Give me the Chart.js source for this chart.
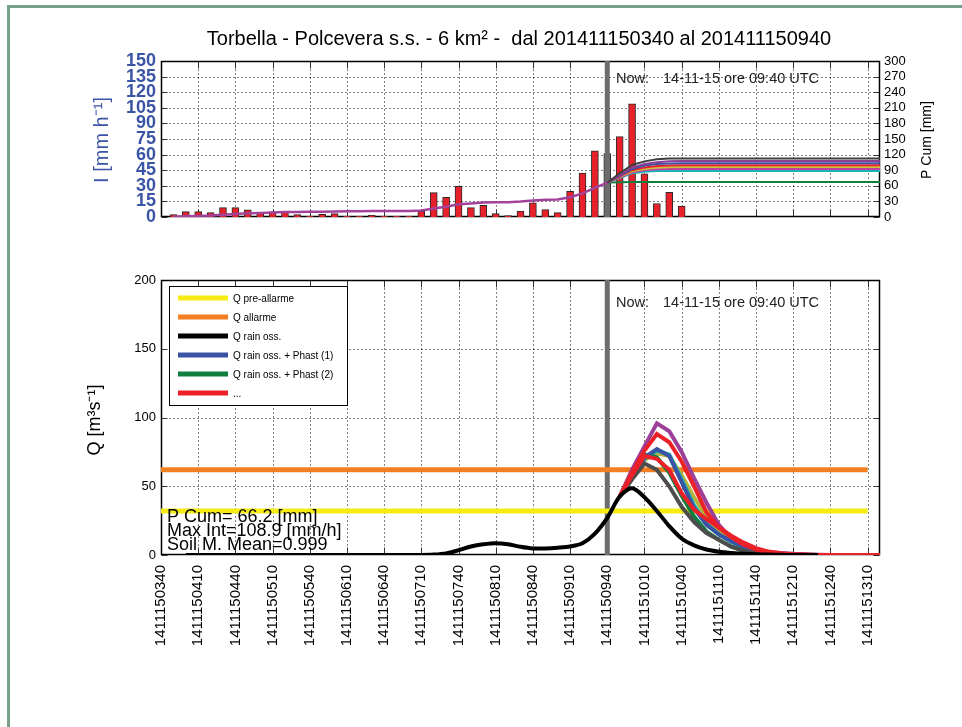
<!DOCTYPE html>
<html>
<head>
<meta charset="utf-8">
<script src="https://cdn.jsdelivr.net/npm/chart.js@4.4.1/dist/chart.umd.min.js"></script>
<style>
  body { margin: 0; background: #fff; }
  #page { position: relative; width: 962px; height: 727px; overflow: hidden; background: #fff; }
  #frame { position: absolute; left: 7px; top: 5px; width: 970px; height: 740px; border-left: 3px solid #76a087; border-top: 3px solid #76a087; }
  canvas { position: absolute; left: 0; }
  #top { top: 0; }
  #bottom { top: 250px; }
</style>
</head>
<body>
<div id="page">
  <div id="frame"></div>
  <canvas id="top" width="962" height="250"></canvas>
  <canvas id="bottom" width="962" height="477"></canvas>
</div>
<script>
// x axis: minutes after 03:40, ticks every 30 min
const xTickLabels = ['1411150340', '1411150410', '1411150440', '1411150510', '1411150540',
  '1411150610', '1411150640', '1411150710', '1411150740', '1411150810', '1411150840',
  '1411150910', '1411150940', '1411151010', '1411151040', '1411151110', '1411151140',
  '1411151210', '1411151240', '1411151310'];
const nowTime = '09:40';

// rain intensity bars [mm/h], 10 min steps
const rainTimes = ['03:50', '04:00', '04:10', '04:20', '04:30', '04:40', '04:50', '05:00', '05:10', '05:20',
  '05:30', '05:40', '05:50', '06:00', '06:10', '06:20', '06:30', '06:40', '06:50', '07:00',
  '07:10', '07:20', '07:30', '07:40', '07:50', '08:00', '08:10', '08:20', '08:30', '08:40',
  '08:50', '09:00', '09:10', '09:20', '09:30', '09:40', '09:50', '10:00', '10:10', '10:20',
  '10:30', '10:40'];
const rainIntensity = [2.3, 5.2, 5.2, 4.2, 9, 9, 6.8, 4.5, 5, 5,
  2.3, 0.6, 2.6, 3.2, 0.6, 0.6, 1.6, 0.6, 0.6, 0.6,
  5.5, 23.5, 19, 29.4, 9, 11.3, 3.2, 1.3, 5.8, 13.6,
  7.1, 4.2, 24.7, 42.2, 63.6, 61, 77.3, 108.9, 41.6, 13,
  23.7, 10.4];

// observed cumulated rain [mm] (same times as the first 36 bars)
const obsCum = [0.4, 1.3, 2.1, 2.8, 4.3, 5.8, 7.0, 7.7, 8.5, 9.4,
  9.8, 9.9, 10.3, 10.8, 10.9, 11.0, 11.3, 11.4, 11.5, 11.6,
  12.5, 16.4, 19.6, 24.5, 26.0, 27.9, 28.4, 28.6, 29.6, 31.8,
  33.0, 33.7, 38.0, 45.5, 56.0, 66.2];

// forecast cumulated rain [mm]
const fcCumTimes = ['09:40', '09:50', '10:00', '10:10', '10:20', '10:30', '10:40', '13:20'];
const fcCumDarkGray = [66.2, 84, 100, 107, 111, 112.5, 112.5, 112.5];
const fcCumPurple = [66.2, 80, 95, 102, 105.5, 107, 107.5, 107.5];
const fcCumBlue = [66.2, 79, 92, 99, 102, 103, 103.5, 103.5];
const fcCumRed = [66.2, 78, 90, 95, 98, 99, 99.5, 99.5];
const fcCumOlive = [66.2, 77, 88, 92.5, 95, 95.8, 96, 96];
const fcCumMagenta = [66.2, 76, 86, 90, 92, 92.4, 92.5, 92.5];
const fcCumCyan = [66.2, 75, 84, 87, 88.3, 88.5, 88.5, 88.5];
const fcCumGreen = [66.2, 67, 67.3, 67.5, 67.5, 67.5, 67.5, 67.5];

// discharge Q [m3/s], 10 min steps from the start time
const qObsStart = '04:00';
const qObs = [0, 0, 0, 0, 0, 0, 0, 0, 0, 0,
  0, 0, 0, 0, 0, 0, 0, 0, 0, 0,
  0.3, 1.2, 3.5, 6.2, 7.8, 8.6, 7.8, 6.0, 4.8, 4.8,
  5.3, 6.2, 8.5, 15.5, 27, 42.5, 48.5, 42, 32, 21,
  12, 7, 4, 2.4, 1.5, 1, 0.6, 0.3, 0.1, 0,
  0, 0];
const qFcStart = '09:50';
const qFcPurple = [42.5, 62, 79, 95.8, 90, 75, 56, 38, 22, 12, 6.5, 3.5, 2.2, 1.5, 0.9, 0.5, 0.2, 0];
const qFcRedHigh = [42.5, 60, 76, 88, 82, 68, 50, 31, 20, 13, 7.5, 4, 2, 1, 0.5, 0.2, 0];
const qFcBlue = [42.5, 58, 71, 77, 72, 53, 34, 22, 15, 10, 6, 3.5, 2, 1, 0.4, 0];
const qFcTeal = [42.5, 57, 70, 76, 73, 55, 36, 23, 15, 9.5, 5.5, 3, 1.5, 0.7, 0.2, 0];
const qFcOlive = [42.5, 56, 69, 74, 72, 58, 42, 28, 17, 10, 5, 2.5, 1.2, 0.5, 0];
const qFcGreen = [42.5, 57, 73, 71, 60, 43, 28, 17, 11, 6, 3.5, 1.8, 0.8, 0.3, 0];
const qFcDarkGray = [42.5, 55, 66.5, 62, 50, 35, 24, 16, 11, 6, 3, 1.5, 0.6, 0.2, 0];
const qFcRed = [42.5, 58, 72, 70, 62, 45, 33, 26, 20, 14, 9, 5, 2.5, 1.2, 0.5, 0.2, 0, 0, 0, 0, 0, 0];

const thresholdTimes = ['03:40', '13:10'];
const qPreAllarme = 32;
const qAllarme = 62;

const legendLabels = ['Q pre-allarme', 'Q allarme', 'Q rain oss.', 'Q rain oss. + Phast (1)', 'Q rain oss. + Phast (2)', '...'];
const statsLines = ['P Cum= 66.2 [mm]', 'Max Int=108.9 [mm/h]', 'Soil M. Mean=0.999'];

const FONT = '"Liberation Sans", Arial, sans-serif';
const NOW_GRAY = '#6d6d6d';

function toMin(t) {
  const [h, m] = t.split(':').map(Number);
  return h * 60 + m - 220;
}
function pts(times, vals) {
  return vals.map((v, i) => ({ x: toMin(times[i]), y: v }));
}
function stepPts(start, vals) {
  const s = toMin(start);
  return vals.map((v, i) => ({ x: s + 10 * i, y: v }));
}
function flat(times, v) {
  return times.map(t => ({ x: toMin(t), y: v }));
}

// dotted grid, inward ticks and the box round the plot
function drawFrame(chart, yId) {
  const { ctx, chartArea: a } = chart;
  const xs = chart.scales.x, ys = chart.scales[yId];
  const L = Math.round(a.left) + 0.5, R = Math.round(a.right) - 0.5;
  const T = Math.round(a.top) + 0.5, B = Math.round(a.bottom) - 0.5;
  ctx.save();
  ctx.strokeStyle = '#000';
  ctx.lineWidth = 1;
  ctx.setLineDash([1, 3]);
  xs.ticks.forEach(t => {
    const px = Math.round(xs.getPixelForValue(t.value)) + 0.5;
    if (px <= L + 1 || px >= R - 1) return;
    ctx.beginPath(); ctx.moveTo(px, T); ctx.lineTo(px, B); ctx.stroke();
  });
  ys.ticks.forEach(t => {
    const py = Math.round(ys.getPixelForValue(t.value)) + 0.5;
    if (py <= T + 1 || py >= B - 1) return;
    ctx.beginPath(); ctx.moveTo(L, py); ctx.lineTo(R, py); ctx.stroke();
  });
  ctx.setLineDash([]);
  ctx.strokeStyle = '#333';
  xs.ticks.forEach(t => {
    const px = Math.round(xs.getPixelForValue(t.value)) + 0.5;
    ctx.beginPath();
    ctx.moveTo(px, B); ctx.lineTo(px, B - 7);
    ctx.moveTo(px, T); ctx.lineTo(px, T + 7);
    ctx.stroke();
  });
  ys.ticks.forEach(t => {
    const py = Math.round(ys.getPixelForValue(t.value)) + 0.5;
    ctx.beginPath();
    ctx.moveTo(L, py); ctx.lineTo(L + 6, py);
    ctx.moveTo(R, py); ctx.lineTo(R - 6, py);
    ctx.stroke();
  });
  ctx.strokeStyle = '#000';
  ctx.lineWidth = 1.5;
  ctx.strokeRect(L, T, R - L, B - T);
  ctx.restore();
}

function txt(ctx, s, x, y, font, color, align, rot) {
  ctx.save();
  ctx.font = font;
  ctx.fillStyle = color || '#000';
  ctx.textAlign = align || 'left';
  ctx.textBaseline = rot ? 'middle' : 'alphabetic';
  ctx.translate(x, y);
  if (rot) ctx.rotate(rot);
  ctx.fillText(s, 0, 0);
  ctx.restore();
}

function drawNow(chart, baseline) {
  const ctx = chart.ctx;
  txt(ctx, 'Now:', 616, baseline, '14.5px ' + FONT, '#222');
  txt(ctx, '14-11-15 ore 09:40 UTC', 663, baseline, '14.5px ' + FONT, '#222');
}

const topDecor = {
  id: 'topDecor',
  beforeDatasetsDraw(chart) { drawFrame(chart, 'y'); },
  afterDraw(chart) {
    const ctx = chart.ctx;
    txt(ctx, 'Torbella - Polcevera s.s. - 6 km\u00b2 -  dal 201411150340 al 201411150940', 519, 45, '20px ' + FONT, '#000', 'center');
    txt(ctx, 'I [mm h\u207b\u00b9]', 102, 140, '20px ' + FONT, '#3b55a6', 'center', -Math.PI / 2);
    txt(ctx, 'P Cum [mm]', 927, 140, '14px ' + FONT, '#000', 'center', -Math.PI / 2);
    drawNow(chart, 83);
  }
};

const bottomDecor = {
  id: 'bottomDecor',
  beforeDatasetsDraw(chart) { drawFrame(chart, 'y'); },
  afterDraw(chart) {
    const ctx = chart.ctx;
    txt(ctx, 'Q [m\u00b3s\u207b\u00b9]', 95, 170, '18px ' + FONT, '#000', 'center', -Math.PI / 2);
    drawNow(chart, 57);
    statsLines.forEach((s, i) => txt(ctx, s, 167, 272 + 14 * i, '18px ' + FONT, '#000'));
    // legend
    ctx.save();
    ctx.fillStyle = '#fff';
    ctx.fillRect(169.5, 36.5, 178, 119);
    ctx.strokeStyle = '#000';
    ctx.lineWidth = 1;
    ctx.strokeRect(169.5, 36.5, 178, 119);
    ctx.restore();
    legendLabels.forEach((lab, i) => {
      const ds = chart.data.datasets[i];
      const y = 48 + 19 * i;
      ctx.save();
      ctx.strokeStyle = ds.borderColor;
      ctx.lineWidth = 5;
      ctx.beginPath(); ctx.moveTo(178, y); ctx.lineTo(228, y); ctx.stroke();
      ctx.restore();
      txt(ctx, lab, 233, y + 4, '10px ' + FONT, '#000');
    });
  }
};

function xScale(showTicks, height) {
  return {
    type: 'linear', min: 0, max: 580, offset: false,
    grid: { display: false, drawTicks: false }, border: { display: false },
    ticks: {
      display: showTicks, stepSize: 30, includeBounds: false, autoSkip: false,
      minRotation: 90, maxRotation: 90, padding: 10, color: '#000',
      font: { family: FONT, size: 15 },
      callback: v => xTickLabels[Math.round(v / 30)]
    },
    afterFit: s => { s.height = height; }
  };
}

function line(data, color, width, order, yId) {
  return { type: 'line', data, borderColor: color, borderWidth: width, pointRadius: 0,
    tension: 0, fill: false, order, yAxisID: yId || 'y' };
}

const nowX = toMin(nowTime);

new Chart(document.getElementById('top'), {
  type: 'bar',
  data: {
    datasets: [
      line(pts(rainTimes, obsCum), '#a3429a', 2.5, 0, 'y2'),
      line(pts(fcCumTimes, fcCumDarkGray), '#3f3f3f', 2, 0, 'y2'),
      line(pts(fcCumTimes, fcCumPurple), '#8d3d95', 2, 0, 'y2'),
      line(pts(fcCumTimes, fcCumBlue), '#3a53a4', 2, 0, 'y2'),
      line(pts(fcCumTimes, fcCumRed), '#ec2027', 2, 0, 'y2'),
      line(pts(fcCumTimes, fcCumOlive), '#c8c13a', 2, 0, 'y2'),
      line(pts(fcCumTimes, fcCumMagenta), '#c0409e', 2, 0, 'y2'),
      line(pts(fcCumTimes, fcCumCyan), '#1bb3b8', 2, 0, 'y2'),
      line(pts(fcCumTimes, fcCumGreen), '#0f7f3e', 2, 0, 'y2'),
      line([{ x: nowX, y: 0 }, { x: nowX, y: 300 }], NOW_GRAY, 5, 1, 'y2'),
      {
        type: 'bar', data: pts(rainTimes, rainIntensity), yAxisID: 'y', order: 5,
        backgroundColor: rainTimes.map(t => t === nowTime ? NOW_GRAY : '#e8202a'),
        borderColor: '#2a2a2a', borderWidth: 1, barThickness: 7
      }
    ]
  },
  options: {
    responsive: false, animation: false,
    layout: { padding: { top: 61, left: 0, right: 0, bottom: 0 } },
    plugins: { legend: { display: false }, tooltip: { enabled: false } },
    scales: {
      x: xScale(false, 33),
      y: {
        position: 'left', min: 0, max: 150,
        grid: { display: false, drawTicks: false }, border: { display: false },
        ticks: { stepSize: 15, autoSkip: false, padding: 5, color: '#3b55a6',
          font: { family: FONT, size: 18, weight: 'bold' } },
        afterFit: s => { s.width = 161; }
      },
      y2: {
        position: 'right', min: 0, max: 300,
        grid: { display: false, drawTicks: false }, border: { display: false },
        ticks: { stepSize: 30, autoSkip: false, padding: 4, color: '#000',
          font: { family: FONT, size: 13 } },
        afterFit: s => { s.width = 82; }
      }
    }
  },
  plugins: [topDecor]
});

new Chart(document.getElementById('bottom'), {
  type: 'line',
  data: {
    datasets: [
      line(flat(thresholdTimes, qPreAllarme), '#f6ec13', 5, 6),
      line(flat(thresholdTimes, qAllarme), '#f47f20', 5, 6),
      Object.assign(line(stepPts(qObsStart, qObs), '#000', 4, 0), { tension: 0.3 }),
      line(stepPts(qFcStart, qFcBlue), '#3a53a4', 4, 3),
      line(stepPts(qFcStart, qFcGreen), '#0f7f3e', 4, 3),
      line(stepPts(qFcStart, qFcRed), '#ec2027', 4, 1),
      line(stepPts(qFcStart, qFcPurple), '#9c3f98', 4, 4),
      line(stepPts(qFcStart, qFcRedHigh), '#ec2027', 4, 2),
      line(stepPts(qFcStart, qFcTeal), '#1fa9b5', 4, 3),
      line(stepPts(qFcStart, qFcOlive), '#b7b23a', 4, 3),
      line(stepPts(qFcStart, qFcDarkGray), '#4d4d4d', 4, 2),
      line([{ x: nowX, y: 0 }, { x: nowX, y: 200 }], NOW_GRAY, 5, 7)
    ]
  },
  options: {
    responsive: false, animation: false,
    layout: { padding: { top: 30, left: 0, right: 82, bottom: 0 } },
    plugins: { legend: { display: false }, tooltip: { enabled: false } },
    scales: {
      x: xScale(true, 172),
      y: {
        position: 'left', min: 0, max: 200,
        grid: { display: false, drawTicks: false }, border: { display: false },
        ticks: { stepSize: 50, autoSkip: false, padding: 5, color: '#000',
          font: { family: FONT, size: 13 } },
        afterFit: s => { s.width = 161; }
      }
    }
  },
  plugins: [bottomDecor]
});
</script>
</body>
</html>
